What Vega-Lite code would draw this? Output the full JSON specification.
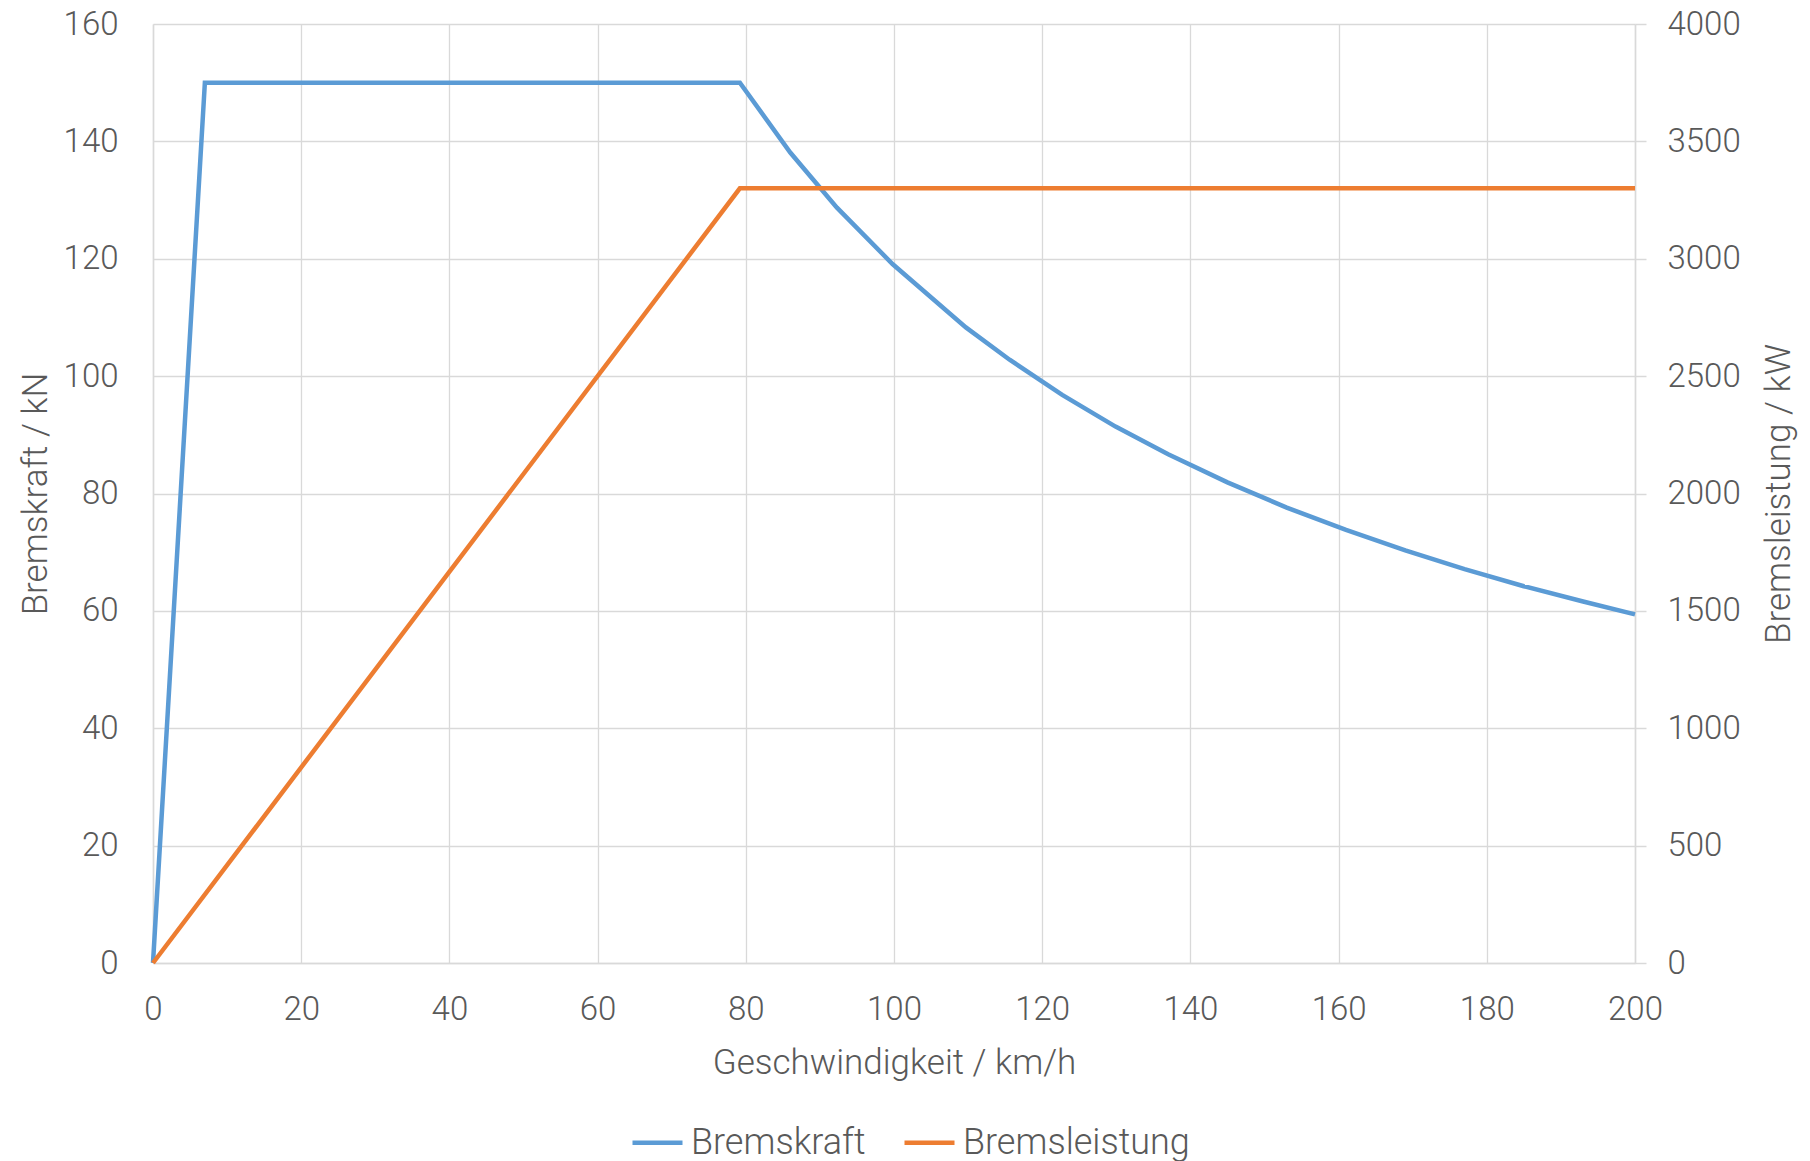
{
  "$schema": "https://vega.github.io/schema/vega-lite/v6.json",
  "width": 1482,
  "height": 939,
  "autosize": {"type": "none"},
  "padding": {"left": 153, "top": 24, "right": 175, "bottom": 198},
  "background": "white",
  "config": {
    "font": "Roboto",
    "view": {"stroke": null},
    "axis": {
      "labelFont": "Roboto",
      "titleFont": "Roboto",
      "labelFontSize": 33,
      "titleFontSize": 35,
      "labelColor": "#595959",
      "titleColor": "#595959",
      "labelFontWeight": 300,
      "titleFontWeight": 300,
      "gridColor": "#D9D9D9",
      "gridWidth": 1.3,
      "domainColor": "#D9D9D9",
      "domainWidth": 1.5,
      "tickColor": "#D9D9D9",
      "tickWidth": 1.5
    },
    "legend": {
      "labelFont": "Roboto",
      "labelFontSize": 36,
      "labelColor": "#595959",
      "labelFontWeight": 300,
      "labelLimit": 600
    }
  },
  "data": {
    "values": [
      {"v": 0, "series": "Bremskraft", "value": 0},
      {"v": 7, "series": "Bremskraft", "value": 150},
      {"v": 79.2, "series": "Bremskraft", "value": 150},
      {"v": 86, "series": "Bremskraft", "value": 138.1},
      {"v": 92.3, "series": "Bremskraft", "value": 128.7},
      {"v": 99.8, "series": "Bremskraft", "value": 119.1},
      {"v": 109.7, "series": "Bremskraft", "value": 108.3},
      {"v": 115.6, "series": "Bremskraft", "value": 102.8},
      {"v": 122.7, "series": "Bremskraft", "value": 96.8},
      {"v": 129.9, "series": "Bremskraft", "value": 91.4},
      {"v": 137, "series": "Bremskraft", "value": 86.7},
      {"v": 145, "series": "Bremskraft", "value": 81.9},
      {"v": 153, "series": "Bremskraft", "value": 77.6},
      {"v": 161, "series": "Bremskraft", "value": 73.8},
      {"v": 169, "series": "Bremskraft", "value": 70.3},
      {"v": 177, "series": "Bremskraft", "value": 67.1},
      {"v": 185, "series": "Bremskraft", "value": 64.2},
      {"v": 193, "series": "Bremskraft", "value": 61.6},
      {"v": 200, "series": "Bremskraft", "value": 59.4},
      {"v": 0, "series": "Bremsleistung", "value": 0},
      {"v": 79.2, "series": "Bremsleistung", "value": 3300},
      {"v": 200, "series": "Bremsleistung", "value": 3300}
    ]
  },
  "encoding": {
    "x": {
      "field": "v",
      "type": "quantitative",
      "scale": {"domain": [0, 200], "nice": false},
      "axis": {
        "title": "Geschwindigkeit / km/h",
        "values": [0, 20, 40, 60, 80, 100, 120, 140, 160, 180, 200],
        "ticks": false,
        "labelPadding": 30,
        "titlePadding": 19,
        "grid": true,
        "labelFlush": false
      }
    },
    "color": {
      "field": "series",
      "type": "nominal",
      "scale": {"domain": ["Bremskraft", "Bremsleistung"], "range": ["#5B9BD5", "#ED7D31"]},
      "legend": {
        "title": null,
        "orient": "none",
        "legendX": 477,
        "legendY": 1091,
        "direction": "horizontal",
        "symbolType": "stroke",
        "symbolSize": 2500,
        "symbolStrokeWidth": 4.5,
        "labelOffset": 6,
        "columnPadding": 29
      }
    }
  },
  "layer": [
    {
      "transform": [{"filter": "datum.series === 'Bremskraft'"}],
      "mark": {"type": "line", "strokeWidth": 4.5},
      "encoding": {
        "y": {
          "field": "value",
          "type": "quantitative",
          "scale": {"domain": [0, 160], "nice": false},
          "axis": {
            "title": "Bremskraft / kN",
            "orient": "left",
            "values": [0, 20, 40, 60, 80, 100, 120, 140, 160],
            "ticks": false,
            "labelPadding": 35,
            "titlePadding": 10,
            "grid": true,
            "labelFlush": false
          }
        }
      }
    },
    {
      "transform": [{"filter": "datum.series === 'Bremsleistung'"}],
      "mark": {"type": "line", "strokeWidth": 4.5},
      "encoding": {
        "y": {
          "field": "value",
          "type": "quantitative",
          "scale": {"domain": [0, 4000], "nice": false},
          "axis": {
            "title": "Bremsleistung / kW",
            "orient": "right",
            "format": "d",
            "values": [0, 500, 1000, 1500, 2000, 2500, 3000, 3500, 4000],
            "ticks": true,
            "tickSize": 11,
            "labelPadding": 21,
            "titlePadding": 21,
            "titleAngle": 270,
            "titleBaseline": "top",
            "grid": false,
            "labelFlush": false
          }
        }
      }
    }
  ],
  "resolve": {"scale": {"y": "independent"}}
}
